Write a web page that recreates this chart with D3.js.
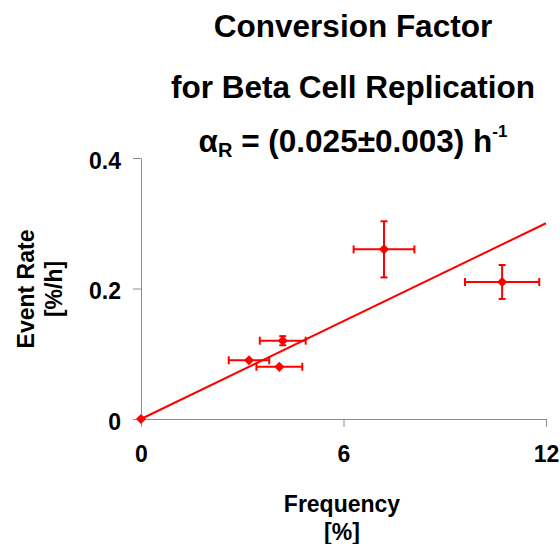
<!DOCTYPE html>
<html>
<head>
<meta charset="utf-8">
<script src="https://cdn.jsdelivr.net/npm/d3@7"></script>
<style>
  body { margin: 0; background: #fff; }
  text { font-family: 'Liberation Sans', Arial, sans-serif; font-weight: bold; fill: #000; }
</style>
</head>
<body>
<div id="chart"></div>
<script>
// measured points: frequency [%] vs event rate [%/h]
const freq = [0, 3.2, 4.2, 4.1, 7.2, 10.7]
const rate = [0, 0.09, 0.12, 0.08, 0.26, 0.21]
const freqErr = [0, 0.6, 0.68, 0.68, 0.9, 1.1]
const rateErr = [0, 0, 0.007, 0, 0.043, 0.026]

const xTicks = [0, 6, 12]
const yTicks = [0, 0.2, 0.4]

// fitted conversion factor (slope through origin)
const alpha = 0.025

const width = 560
const height = 544
const red = '#ff0000'
const axisColor = '#8c8c8c'

const svg = d3.select('#chart')
  .append('svg')
  .attr('width', width)
  .attr('height', height)

const x = d3.scaleLinear().domain([0, 12]).range([141, 546])
const y = d3.scaleLinear().domain([0, 0.4]).range([419, 158])

// title, three lines
const titleX = 353
svg.append('text')
  .attr('x', titleX).attr('y', 37)
  .attr('text-anchor', 'middle')
  .style('font-size', '31.5px')
  .text('Conversion Factor')

svg.append('text')
  .attr('x', titleX).attr('y', 98)
  .attr('text-anchor', 'middle')
  .style('font-size', '31.5px')
  .text('for Beta Cell Replication')

const t3 = svg.append('text')
  .attr('x', titleX).attr('y', 152)
  .attr('text-anchor', 'middle')
  .style('font-size', '31.5px')
t3.append('tspan').text('α')
t3.append('tspan').attr('dy', 5).style('font-size', '20px').text('R')
t3.append('tspan').attr('dy', -5).text(' = (0.025±0.003) h')
t3.append('tspan').attr('dy', -15).style('font-size', '17px').text('-1')

// axes
const yAxis = svg.append('g')
  .attr('transform', `translate(${x(0)},0)`)
  .call(d3.axisLeft(y).tickValues(yTicks).tickSize(8).tickSizeOuter(0).tickPadding(12)
    .tickFormat(d => String(d)))

const xAxis = svg.append('g')
  .attr('transform', `translate(0,${y(0)})`)
  .call(d3.axisBottom(x).tickValues(xTicks).tickSize(8).tickSizeOuter(0).tickPadding(19)
    .tickFormat(d => String(d)))

;[xAxis, yAxis].forEach(a => {
  a.select('.domain').attr('stroke', axisColor)
  a.selectAll('.tick line').attr('stroke', axisColor)
  a.selectAll('.tick text')
    .attr('fill', '#000')
    .style('font-size', '23px')
    .style('font-family', "'Liberation Sans', Arial, sans-serif")
    .style('font-weight', 'bold')
})
yAxis.selectAll('.tick text').attr('dy', '0.45em')

// axis titles
svg.append('text')
  .attr('x', 342).attr('y', 512)
  .attr('text-anchor', 'middle')
  .style('font-size', '23px')
  .text('Frequency')
svg.append('text')
  .attr('x', 342).attr('y', 540)
  .attr('text-anchor', 'middle')
  .style('font-size', '23px')
  .text('[%]')

const yTitle = svg.append('g')
  .attr('transform', 'translate(0,289) rotate(-90)')
yTitle.append('text')
  .attr('x', 0).attr('y', 34)
  .attr('text-anchor', 'middle')
  .style('font-size', '23px')
  .text('Event Rate')
yTitle.append('text')
  .attr('x', 0).attr('y', 62)
  .attr('text-anchor', 'middle')
  .style('font-size', '23px')
  .text('[%/h]')

// regression line
svg.append('path')
  .datum([0, 12])
  .attr('fill', 'none')
  .attr('stroke', red)
  .attr('stroke-width', 2)
  .attr('d', d3.line().x(d => x(d)).y(d => y(alpha * d)))

const points = freq.map((f, i) => ({ f, r: rate[i], fe: freqErr[i], re: rateErr[i] }))

// error bars
const bars = svg.append('g')
  .attr('stroke', red)
  .attr('stroke-width', 2)
  .attr('fill', 'none')

points.filter(d => d.fe > 0).forEach(d => {
  const cy = y(d.r)
  bars.append('line')
    .attr('x1', x(d.f - d.fe)).attr('x2', x(d.f + d.fe))
    .attr('y1', cy).attr('y2', cy)
  ;[d.f - d.fe, d.f + d.fe].forEach(v => {
    bars.append('line')
      .attr('x1', x(v)).attr('x2', x(v))
      .attr('y1', cy - 4).attr('y2', cy + 4)
  })
})

points.filter(d => d.re > 0).forEach(d => {
  const cx = x(d.f)
  bars.append('line')
    .attr('x1', cx).attr('x2', cx)
    .attr('y1', y(d.r - d.re)).attr('y2', y(d.r + d.re))
  ;[d.r - d.re, d.r + d.re].forEach(v => {
    bars.append('line')
      .attr('x1', cx - 3.5).attr('x2', cx + 3.5)
      .attr('y1', y(v)).attr('y2', y(v))
  })
})

// diamond markers
svg.append('g')
  .selectAll('path')
  .data(points)
  .enter().append('path')
    .attr('d', d3.symbol(d3.symbolSquare, 52))
    .attr('transform', d => `translate(${x(d.f)},${y(d.r)}) rotate(45)`)
    .attr('fill', red)
</script>
</body>
</html>
